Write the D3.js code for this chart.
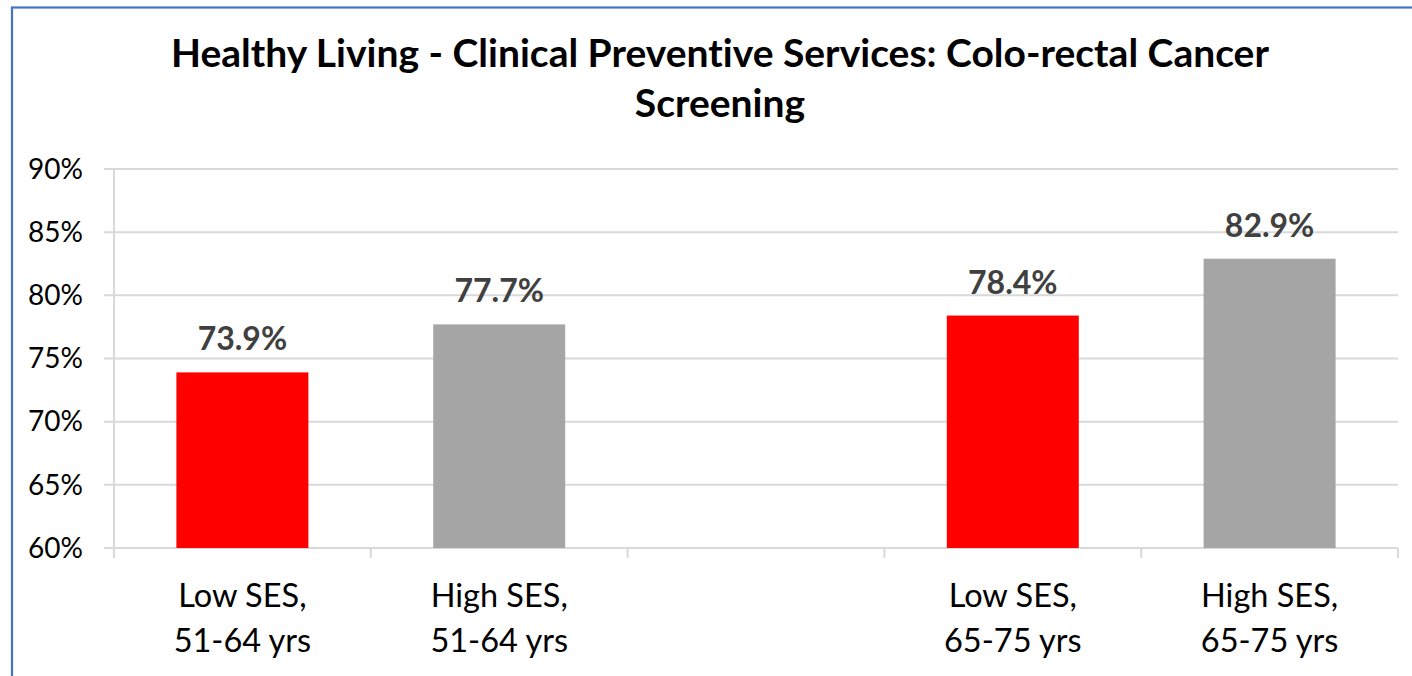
<!DOCTYPE html>
<html>
<head>
<meta charset="utf-8">
<script src="https://cdn.jsdelivr.net/npm/d3@7"></script>
<style>
  html, body { margin: 0; padding: 0; background: #fff; }
  svg { display: block; }
  text { font-family: Lato, "Open Sans", "DejaVu Sans", sans-serif; font-variant-ligatures: none; font-feature-settings: "liga" 0, "clig" 0; }
</style>
</head>
<body>
<div id="chart"></div>
<script>
// ---- data ----
const titleLines = ["Healthy Living - Clinical Preventive Services: Colo-rectal Cancer", "Screening"];
const categories = ["Low SES, 51-64 yrs", "High SES, 51-64 yrs", "", "Low SES, 65-75 yrs", "High SES, 65-75 yrs"];
const values = [73.9, 77.7, null, 78.4, 82.9];
const barColors = ["#FF0000", "#A5A5A5", null, "#FF0000", "#A5A5A5"];
const yTicks = [60, 65, 70, 75, 80, 85, 90];

// ---- layout ----
const W = 1412, H = 676;
const plot = { left: 114, right: 1398, top: 169, bottom: 548 };

const svg = d3.select("#chart").append("svg")
  .attr("width", W).attr("height", H);

svg.append("rect").attr("width", W).attr("height", H).attr("fill", "#fff");

// chart border (only left & top visible in frame)
svg.append("rect")
  .attr("x", 12).attr("y", 7.5)
  .attr("width", W + 20).attr("height", H + 20)
  .attr("fill", "none").attr("stroke", "#4472C4").attr("stroke-width", 2.2);

const catKeys = categories.map((c, i) => i);
const x = d3.scaleBand().domain(catKeys).range([plot.left, plot.right])
  .paddingInner(0.486).paddingOuter(0.243);
const y = d3.scaleLinear().domain([60, 90]).range([plot.bottom, plot.top]);

// title
const title = svg.append("text")
  .attr("text-anchor", "middle")
  .attr("font-weight", 700)
  .attr("font-size", 39)
  .attr("fill", "#000");
title.selectAll("tspan").data(titleLines).join("tspan")
  .attr("x", 720)
  .attr("y", (d, i) => 67 + i * 50)
  .text(d => d);

// gridlines with left tick stubs
svg.append("g").selectAll("line").data(yTicks).join("line")
  .attr("x1", plot.left - 10).attr("x2", plot.right)
  .attr("y1", d => y(d)).attr("y2", d => y(d))
  .attr("stroke", "#D9D9D9").attr("stroke-width", 2);

// y tick labels
svg.append("g").selectAll("text").data(yTicks).join("text")
  .attr("x", 83).attr("y", d => y(d))
  .attr("dy", "0.35em")
  .attr("text-anchor", "end")
  .attr("font-size", 28)
  .attr("fill", "#000")
  .text(d => d + "%");

// vertical axis line
svg.append("line")
  .attr("x1", plot.left).attr("x2", plot.left)
  .attr("y1", y(90)).attr("y2", y(60))
  .attr("stroke", "#D9D9D9").attr("stroke-width", 2);

// bottom category ticks (at band boundaries)
const boundaries = d3.range(categories.length + 1).map(i => plot.left + i * x.step());
svg.append("g").selectAll("line").data(boundaries).join("line")
  .attr("x1", d => d).attr("x2", d => d)
  .attr("y1", y(60)).attr("y2", y(60) + 10)
  .attr("stroke", "#D9D9D9").attr("stroke-width", 2);

// bars
const barData = values.map((v, i) => ({ i, v, c: barColors[i] })).filter(d => d.v != null);
svg.append("g").selectAll("rect").data(barData).join("rect")
  .attr("x", d => x(d.i))
  .attr("width", x.bandwidth())
  .attr("y", d => y(d.v))
  .attr("height", d => y(60) - y(d.v))
  .attr("fill", d => d.c);

// value labels
svg.append("g").selectAll("text").data(barData).join("text")
  .attr("x", d => x(d.i) + x.bandwidth() / 2)
  .attr("y", d => y(d.v) - 22)
  .attr("text-anchor", "middle")
  .attr("font-weight", 700)
  .attr("font-size", 32)
  .attr("fill", "#404040")
  .text(d => d.v.toFixed(1) + "%");

// category labels (two lines)
const xl = svg.append("g").selectAll("text").data(categories.map((c, i) => ({ c, i })).filter(d => d.c))
  .join("text")
  .attr("text-anchor", "middle")
  .attr("font-size", 32.5)
  .attr("fill", "#000");
xl.selectAll("tspan").data(d => {
    const parts = d.c.split(", ");
    return [parts[0] + ",", parts[1]].map((t, k) => ({ t, k, i: d.i }));
  }).join("tspan")
  .attr("x", d => x(d.i) + x.bandwidth() / 2)
  .attr("y", d => 607 + d.k * 45)
  .text(d => d.t);
</script>
</body>
</html>
